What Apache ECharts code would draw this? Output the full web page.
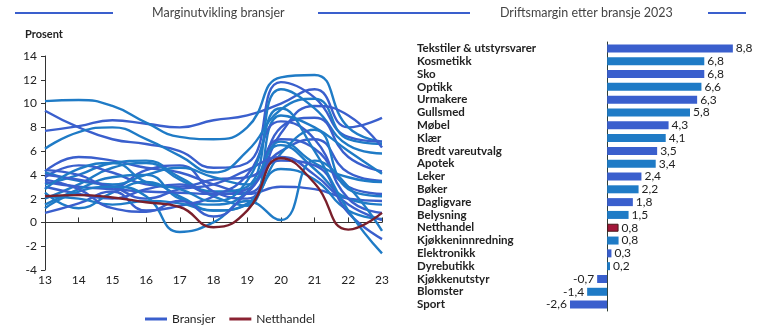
<!DOCTYPE html>
<html>
<head>
<meta charset="utf-8">
<script src="https://cdn.jsdelivr.net/npm/echarts@6/dist/echarts.min.js"></script>
<style>
  html, body { margin: 0; padding: 0; background: #fff; }
  #chart { width: 770px; height: 330px; }
</style>
</head>
<body>
<div id="chart"></div>
<script>
// Years on the margin-development axis (20xx)
const years = [13, 14, 15, 16, 17, 18, 19, 20, 21, 22, 23];

// Operating margin by industry, 2013–2023 (percent)
const tekstiler = [7.7, 8.1, 8.6, 8.3, 8.0, 8.6, 9.0, 10.0, 11.2, 8.0, 8.8];
const kosmetikk = [10.2, 10.3, 9.8, 8.4, 7.2, 7.0, 8.0, 12.2, 12.4, 8.0, 6.8];
const sko = [9.4, 8.0, 7.0, 6.6, 6.0, 4.6, 5.0, 11.8, 10.5, 7.2, 6.8];
const optikk = [6.2, 7.6, 8.0, 7.0, 5.6, 4.2, 6.0, 9.5, 10.4, 7.0, 6.6];
const urmakere = [4.3, 5.5, 5.2, 4.6, 4.2, 3.2, 2.5, 7.5, 9.8, 9.0, 6.3];
const gullsmed = [3.2, 4.0, 5.0, 5.2, 3.8, 2.6, 3.0, 11.2, 9.6, 6.5, 5.8];
const mobel = [4.4, 4.0, 3.0, 4.4, 4.8, 2.6, 2.0, 8.0, 8.8, 5.5, 4.3];
const klaer = [2.0, 3.2, 4.6, 5.0, 3.6, 2.2, 1.4, 9.0, 8.0, 6.0, 4.1];
const bredt = [3.8, 4.8, 4.2, 3.2, 3.0, 3.6, 3.8, 6.0, 7.0, 4.2, 3.5];
const apotek = [4.2, 3.5, 3.2, 4.0, 4.6, 3.8, 3.2, 6.8, 5.0, 3.8, 3.4];
const leker = [3.0, 2.4, 2.0, 2.8, 3.2, 2.4, 2.8, 7.0, 6.2, 3.0, 2.4];
const boker = [2.5, 1.2, 2.5, 3.4, 2.2, 1.0, 1.6, 5.8, 7.8, 2.8, 2.2];
const dagligvare = [3.4, 3.0, 2.8, 2.6, 2.5, 2.4, 2.4, 3.0, 2.8, 2.0, 1.8];
const belysning = [1.5, 2.8, 3.8, 4.0, 2.0, 1.5, 2.6, 6.5, 4.5, 2.0, 1.5];
const kjokkeninnredning = [0.8, 1.6, 2.6, 1.0, 1.4, 2.2, 4.0, 8.5, 7.0, 2.0, 0.8];
const elektronikk = [2.2, 2.0, 1.5, 1.8, 1.6, 1.0, 1.5, 4.5, 3.6, 1.0, 0.3];
const dyrebutikk = [4.0, 3.6, 3.0, 2.0, 2.8, 3.2, 4.4, 5.5, 4.0, 1.5, 0.2];
const kjokkenutstyr = [1.2, 2.6, 3.0, 2.2, -0.8, 0.0, 1.8, 0.2, 5.2, 3.0, -0.7];
const blomster = [3.6, 2.8, 1.2, 0.9, 1.8, 0.5, 2.5, 5.2, 4.8, 0.8, -1.4];
const sport = [2.8, 4.5, 5.0, 3.4, 2.8, 1.8, 3.5, 9.6, 6.0, 1.0, -2.6];
const netthandel = [2.2, 2.3, 2.1, 1.7, 1.3, -0.4, 1.0, 5.4, 3.3, -0.6, 0.8];

const bransjeLinjer = [
  tekstiler, kosmetikk, sko, optikk, urmakere, gullsmed, mobel, klaer, bredt, apotek,
  leker, boker, dagligvare, belysning, kjokkeninnredning, elektronikk, dyrebutikk,
  kjokkenutstyr, blomster, sport
];

// 2023 operating margin ranking
const bransjer = [
  'Tekstiler & utstyrsvarer', 'Kosmetikk', 'Sko', 'Optikk', 'Urmakere', 'Gullsmed',
  'Møbel', 'Klær', 'Bredt vareutvalg', 'Apotek', 'Leker', 'Bøker', 'Dagligvare',
  'Belysning', 'Netthandel', 'Kjøkkeninnredning', 'Elektronikk', 'Dyrebutikk',
  'Kjøkkenutstyr', 'Blomster', 'Sport'
];
const margin2023 = [8.8, 6.8, 6.8, 6.6, 6.3, 5.8, 4.3, 4.1, 3.5, 3.4, 2.4, 2.2, 1.8,
  1.5, 0.8, 0.8, 0.3, 0.2, -0.7, -1.4, -2.6];

const blaa = ['#3a5fcd', '#1f7bc6'];
const rod = '#7a1f2b';
const FONT = 'Lato, "Noto Sans", sans-serif';

const lineSeries = bransjeLinjer.map((vals, i) => ({
  name: 'Bransjer',
  type: 'line',
  xAxisIndex: 0, yAxisIndex: 0,
  smooth: 0.5,
  symbol: 'none',
  silent: true,
  color: blaa[0],
  lineStyle: { width: 2.4, color: blaa[i % 2] },
  data: vals.map((v, j) => [years[j], v])
}));

lineSeries.push({
  name: 'Netthandel',
  type: 'line',
  xAxisIndex: 0, yAxisIndex: 0,
  smooth: 0.5,
  symbol: 'none',
  silent: true,
  z: 5,
  color: '#8b2232',
  lineStyle: { width: 2.4, color: rod },
  data: netthandel.map((v, j) => [years[j], v])
});

const barSeries = {
  name: 'Driftsmargin 2023',
  type: 'bar',
  xAxisIndex: 2, yAxisIndex: 1,
  barWidth: 8,
  silent: true,
  data: margin2023.map((v, i) => ({
    value: v,
    itemStyle: bransjer[i] === 'Netthandel'
      ? { color: '#a3173a', borderColor: '#4a1a1a', borderWidth: 1 }
      : { color: blaa[i % 2] },
    label: { position: v < 0 ? 'left' : 'right' }
  })),
  label: {
    show: true,
    distance: 3,
    fontFamily: FONT,
    fontSize: 12,
    color: '#222',
    formatter: p => String(p.value).replace('.', ',')
  }
};

const chart = echarts.init(document.getElementById('chart'), null, { renderer: 'canvas' });

const headerLine = (x1, x2) => ({
  type: 'line',
  shape: { x1: x1, y1: 13, x2: x2, y2: 13 },
  style: { stroke: '#3a5fcd', lineWidth: 2 }
});

chart.setOption({
  animation: false,
  backgroundColor: '#fff',
  textStyle: { fontFamily: FONT },
  graphic: [
    headerLine(15, 113),
    headerLine(318, 470),
    headerLine(708, 746),
    { type: 'text', left: 152, top: 6,
      style: { text: 'Marginutvikling bransjer', font: '12.5px ' + FONT, fill: '#444' } },
    { type: 'text', left: 500, top: 6,
      style: { text: 'Driftsmargin etter bransje 2023', font: '12.5px ' + FONT, fill: '#444' } },
    { type: 'text', left: 25, top: 29,
      style: { text: 'Prosent', font: 'bold 11px ' + FONT, fill: '#222' } }
  ],
  legend: {
    data: ['Bransjer', 'Netthandel'],
    left: 140, top: 308,
    itemWidth: 22, itemHeight: 3,
    itemGap: 14,
    icon: 'rect',
    textStyle: { fontFamily: FONT, fontSize: 12, color: '#222' },
    selectedMode: false
  },
  grid: [
    { left: 45, right: 388, top: 56, bottom: 60 },
    { left: 550, right: 20, top: 42, bottom: 19 }
  ],
  xAxis: [
    {
      gridIndex: 0, type: 'value', min: 13, max: 23, interval: 1,
      axisLine: { onZero: true, lineStyle: { color: '#333', width: 1 } },
      axisTick: { show: true, inside: true, length: 5, lineStyle: { color: '#333' } },
      axisLabel: { show: false },
      splitLine: { show: false }
    },
    {
      gridIndex: 0, type: 'value', min: 13, max: 23, interval: 1, position: 'bottom',
      axisLine: { show: false, onZero: false },
      axisTick: { show: false },
      axisLabel: { show: true, margin: 4, fontFamily: FONT, fontSize: 12, color: '#222' },
      splitLine: { show: false }
    },
    {
      gridIndex: 1, type: 'value', min: -4, max: 10,
      show: false, splitLine: { show: false }
    }
  ],
  yAxis: [
    {
      gridIndex: 0, type: 'value', min: -4, max: 14, interval: 2,
      axisLine: { show: true, onZero: false, lineStyle: { color: '#333' } },
      axisTick: { show: true, length: 4, lineStyle: { color: '#333' } },
      axisLabel: { fontFamily: FONT, fontSize: 12, color: '#222', margin: 8 },
      splitLine: { show: false }
    },
    {
      gridIndex: 1, type: 'category', inverse: true, data: bransjer,
      axisLine: { show: true, onZero: true, lineStyle: { color: '#2f3f35', width: 1 } },
      axisTick: { show: false },
      axisLabel: {
        interval: 0, margin: 133, align: 'left', fontFamily: FONT, fontSize: 11.5,
        fontWeight: 'bold', color: '#222'
      },
      splitLine: { show: false }
    }
  ],
  series: lineSeries.concat([barSeries])
});
</script>
</body>
</html>
